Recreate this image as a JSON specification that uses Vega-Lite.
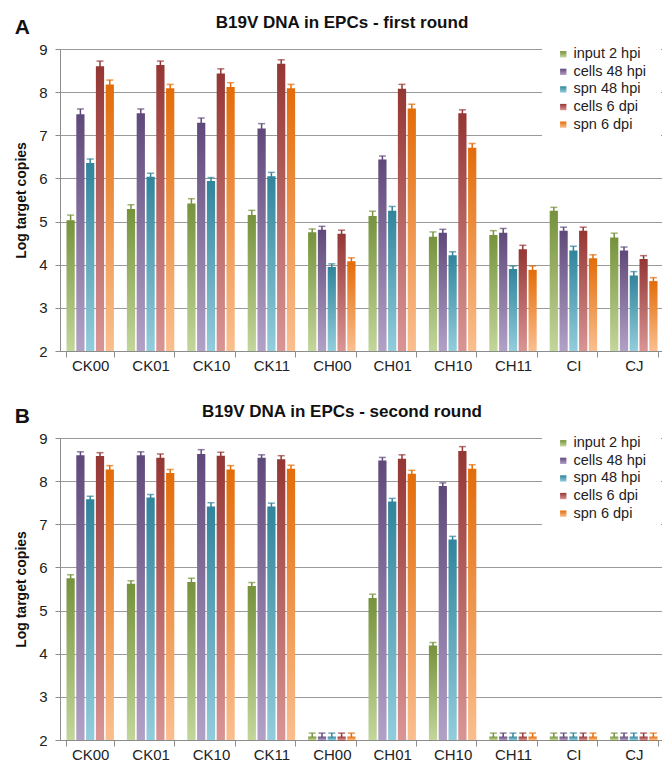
{
  "$schema": "https://vega.github.io/schema/vega-lite/v6.json",
  "padding": {"left": 14, "top": 14, "right": 0, "bottom": 0},
  "config": {
    "font": "Liberation Sans",
    "view": {"stroke": null},
    "concat": {"spacing": 30},
    "axis": {"labelColor": "#222", "domainColor": "#8c8c8c", "tickColor": "#8c8c8c", "labelFontSize": 15, "titleColor": "#111"},
    "legend": {"orient": "none", "legendX": 482, "legendY": -16, "fillColor": "white", "padding": 14, "labelFontSize": 14.5, "labelColor": "#222", "symbolType": "square", "symbolSize": 40, "rowPadding": 2.6, "labelOffset": 3, "title": null, "symbolStrokeWidth": 0}
  },
  "resolve": {"scale": {"fill": "independent", "color": "independent", "y": "independent", "x": "independent"}, "legend": {"fill": "independent"}},
  "datasets": {
    "r1": [
      {"cat": "CK00", "series": "input 2 hpi", "value": 5.03, "err": 0.12},
      {"cat": "CK00", "series": "cells 48 hpi", "value": 7.49, "err": 0.12},
      {"cat": "CK00", "series": "spn 48 hpi", "value": 6.36, "err": 0.09},
      {"cat": "CK00", "series": "cells 6 dpi", "value": 8.6, "err": 0.12},
      {"cat": "CK00", "series": "spn 6 dpi", "value": 8.18, "err": 0.1},
      {"cat": "CK01", "series": "input 2 hpi", "value": 5.29, "err": 0.1},
      {"cat": "CK01", "series": "cells 48 hpi", "value": 7.51, "err": 0.1},
      {"cat": "CK01", "series": "spn 48 hpi", "value": 6.04, "err": 0.08},
      {"cat": "CK01", "series": "cells 6 dpi", "value": 8.63, "err": 0.09},
      {"cat": "CK01", "series": "spn 6 dpi", "value": 8.09, "err": 0.09},
      {"cat": "CK10", "series": "input 2 hpi", "value": 5.42, "err": 0.11},
      {"cat": "CK10", "series": "cells 48 hpi", "value": 7.29, "err": 0.11},
      {"cat": "CK10", "series": "spn 48 hpi", "value": 5.94, "err": 0.08},
      {"cat": "CK10", "series": "cells 6 dpi", "value": 8.43, "err": 0.11},
      {"cat": "CK10", "series": "spn 6 dpi", "value": 8.12, "err": 0.1},
      {"cat": "CK11", "series": "input 2 hpi", "value": 5.15, "err": 0.11},
      {"cat": "CK11", "series": "cells 48 hpi", "value": 7.16, "err": 0.11},
      {"cat": "CK11", "series": "spn 48 hpi", "value": 6.05, "err": 0.09},
      {"cat": "CK11", "series": "cells 6 dpi", "value": 8.66, "err": 0.09},
      {"cat": "CK11", "series": "spn 6 dpi", "value": 8.09, "err": 0.09},
      {"cat": "CH00", "series": "input 2 hpi", "value": 4.75, "err": 0.08},
      {"cat": "CH00", "series": "cells 48 hpi", "value": 4.81, "err": 0.08},
      {"cat": "CH00", "series": "spn 48 hpi", "value": 3.95, "err": 0.07},
      {"cat": "CH00", "series": "cells 6 dpi", "value": 4.72, "err": 0.08},
      {"cat": "CH00", "series": "spn 6 dpi", "value": 4.08, "err": 0.08},
      {"cat": "CH01", "series": "input 2 hpi", "value": 5.13, "err": 0.11},
      {"cat": "CH01", "series": "cells 48 hpi", "value": 6.44, "err": 0.08},
      {"cat": "CH01", "series": "spn 48 hpi", "value": 5.25, "err": 0.1},
      {"cat": "CH01", "series": "cells 6 dpi", "value": 8.08, "err": 0.1},
      {"cat": "CH01", "series": "spn 6 dpi", "value": 7.62, "err": 0.1},
      {"cat": "CH10", "series": "input 2 hpi", "value": 4.65, "err": 0.11},
      {"cat": "CH10", "series": "cells 48 hpi", "value": 4.74, "err": 0.08},
      {"cat": "CH10", "series": "spn 48 hpi", "value": 4.22, "err": 0.08},
      {"cat": "CH10", "series": "cells 6 dpi", "value": 7.51, "err": 0.08},
      {"cat": "CH10", "series": "spn 6 dpi", "value": 6.71, "err": 0.1},
      {"cat": "CH11", "series": "input 2 hpi", "value": 4.69, "err": 0.1},
      {"cat": "CH11", "series": "cells 48 hpi", "value": 4.74, "err": 0.1},
      {"cat": "CH11", "series": "spn 48 hpi", "value": 3.9, "err": 0.07},
      {"cat": "CH11", "series": "cells 6 dpi", "value": 4.36, "err": 0.09},
      {"cat": "CH11", "series": "spn 6 dpi", "value": 3.88, "err": 0.09},
      {"cat": "CI", "series": "input 2 hpi", "value": 5.25, "err": 0.08},
      {"cat": "CI", "series": "cells 48 hpi", "value": 4.79, "err": 0.08},
      {"cat": "CI", "series": "spn 48 hpi", "value": 4.33, "err": 0.1},
      {"cat": "CI", "series": "cells 6 dpi", "value": 4.79, "err": 0.08},
      {"cat": "CI", "series": "spn 6 dpi", "value": 4.15, "err": 0.08},
      {"cat": "CJ", "series": "input 2 hpi", "value": 4.63, "err": 0.1},
      {"cat": "CJ", "series": "cells 48 hpi", "value": 4.33, "err": 0.08},
      {"cat": "CJ", "series": "spn 48 hpi", "value": 3.75, "err": 0.09},
      {"cat": "CJ", "series": "cells 6 dpi", "value": 4.13, "err": 0.08},
      {"cat": "CJ", "series": "spn 6 dpi", "value": 3.62, "err": 0.08}
    ],
    "r2": [
      {"cat": "CK00", "series": "input 2 hpi", "value": 5.75, "err": 0.08},
      {"cat": "CK00", "series": "cells 48 hpi", "value": 8.6, "err": 0.08},
      {"cat": "CK00", "series": "spn 48 hpi", "value": 7.58, "err": 0.07},
      {"cat": "CK00", "series": "cells 6 dpi", "value": 8.58, "err": 0.08},
      {"cat": "CK00", "series": "spn 6 dpi", "value": 8.27, "err": 0.09},
      {"cat": "CK01", "series": "input 2 hpi", "value": 5.62, "err": 0.07},
      {"cat": "CK01", "series": "cells 48 hpi", "value": 8.6, "err": 0.08},
      {"cat": "CK01", "series": "spn 48 hpi", "value": 7.62, "err": 0.07},
      {"cat": "CK01", "series": "cells 6 dpi", "value": 8.54, "err": 0.09},
      {"cat": "CK01", "series": "spn 6 dpi", "value": 8.19, "err": 0.08},
      {"cat": "CK10", "series": "input 2 hpi", "value": 5.66, "err": 0.09},
      {"cat": "CK10", "series": "cells 48 hpi", "value": 8.63, "err": 0.1},
      {"cat": "CK10", "series": "spn 48 hpi", "value": 7.41, "err": 0.09},
      {"cat": "CK10", "series": "cells 6 dpi", "value": 8.59, "err": 0.08},
      {"cat": "CK10", "series": "spn 6 dpi", "value": 8.27, "err": 0.09},
      {"cat": "CK11", "series": "input 2 hpi", "value": 5.57, "err": 0.08},
      {"cat": "CK11", "series": "cells 48 hpi", "value": 8.54, "err": 0.07},
      {"cat": "CK11", "series": "spn 48 hpi", "value": 7.41, "err": 0.08},
      {"cat": "CK11", "series": "cells 6 dpi", "value": 8.51, "err": 0.08},
      {"cat": "CK11", "series": "spn 6 dpi", "value": 8.29, "err": 0.08},
      {"cat": "CH00", "series": "input 2 hpi", "value": 2.08, "err": 0.08},
      {"cat": "CH00", "series": "cells 48 hpi", "value": 2.08, "err": 0.08},
      {"cat": "CH00", "series": "spn 48 hpi", "value": 2.08, "err": 0.08},
      {"cat": "CH00", "series": "cells 6 dpi", "value": 2.08, "err": 0.08},
      {"cat": "CH00", "series": "spn 6 dpi", "value": 2.08, "err": 0.08},
      {"cat": "CH01", "series": "input 2 hpi", "value": 5.29, "err": 0.09},
      {"cat": "CH01", "series": "cells 48 hpi", "value": 8.48, "err": 0.07},
      {"cat": "CH01", "series": "spn 48 hpi", "value": 7.53, "err": 0.07},
      {"cat": "CH01", "series": "cells 6 dpi", "value": 8.52, "err": 0.09},
      {"cat": "CH01", "series": "spn 6 dpi", "value": 8.17, "err": 0.08},
      {"cat": "CH10", "series": "input 2 hpi", "value": 4.19, "err": 0.07},
      {"cat": "CH10", "series": "cells 48 hpi", "value": 7.89, "err": 0.07},
      {"cat": "CH10", "series": "spn 48 hpi", "value": 6.65, "err": 0.07},
      {"cat": "CH10", "series": "cells 6 dpi", "value": 8.7, "err": 0.1},
      {"cat": "CH10", "series": "spn 6 dpi", "value": 8.29, "err": 0.09},
      {"cat": "CH11", "series": "input 2 hpi", "value": 2.08, "err": 0.08},
      {"cat": "CH11", "series": "cells 48 hpi", "value": 2.08, "err": 0.08},
      {"cat": "CH11", "series": "spn 48 hpi", "value": 2.08, "err": 0.08},
      {"cat": "CH11", "series": "cells 6 dpi", "value": 2.08, "err": 0.08},
      {"cat": "CH11", "series": "spn 6 dpi", "value": 2.08, "err": 0.08},
      {"cat": "CI", "series": "input 2 hpi", "value": 2.08, "err": 0.08},
      {"cat": "CI", "series": "cells 48 hpi", "value": 2.08, "err": 0.08},
      {"cat": "CI", "series": "spn 48 hpi", "value": 2.08, "err": 0.08},
      {"cat": "CI", "series": "cells 6 dpi", "value": 2.08, "err": 0.08},
      {"cat": "CI", "series": "spn 6 dpi", "value": 2.08, "err": 0.08},
      {"cat": "CJ", "series": "input 2 hpi", "value": 2.08, "err": 0.08},
      {"cat": "CJ", "series": "cells 48 hpi", "value": 2.08, "err": 0.08},
      {"cat": "CJ", "series": "spn 48 hpi", "value": 2.08, "err": 0.08},
      {"cat": "CJ", "series": "cells 6 dpi", "value": 2.08, "err": 0.08},
      {"cat": "CJ", "series": "spn 6 dpi", "value": 2.08, "err": 0.08}
    ]
  },
  "vconcat": [
    {
      "title": {"text": "A", "anchor": "start", "fontSize": 21, "fontWeight": "bold", "color": "#111", "offset": -24, "dx": 0},
      "vconcat": [
        {
          "title": {"text": "B19V DNA in EPCs - first round", "fontSize": 17, "fontWeight": "bold", "color": "#111", "anchor": "middle", "dx": -20, "offset": 10},
          "data": {"name": "r1"},
          "width": 604,
          "height": 302,
          "encoding": {
            "x": {"field": "cat", "type": "nominal", "sort": null, "scale": {"paddingInner": 0.215, "paddingOuter": 0.1075}, "axis": {"title": null, "labelAngle": 0, "tickBand": "extent", "tickSize": 6, "labelPadding": 1}},
            "xOffset": {"field": "series", "type": "nominal", "sort": ["input 2 hpi", "cells 48 hpi", "spn 48 hpi", "cells 6 dpi", "spn 6 dpi"], "scale": {"paddingInner": 0.16}},
            "y": {"field": "value", "type": "quantitative", "scale": {"domain": [2, 9], "zero": false, "nice": false}, "axis": {"title": "Log target copies", "titleFontSize": 14, "titleFontWeight": "bold", "titlePadding": 10, "values": [2, 3, 4, 5, 6, 7, 8, 9], "gridColor": "#9a9a9a", "tickSize": 5, "labelPadding": 8}}
          },
          "layer": [
            {
              "mark": {"type": "errorbar", "ticks": {"size": 7, "thickness": 1.5}, "thickness": 1.5},
              "encoding": {
                "yError": {"field": "err"},
                "color": {"field": "series", "type": "nominal", "sort": ["input 2 hpi", "cells 48 hpi", "spn 48 hpi", "cells 6 dpi", "spn 6 dpi"], "scale": {"range": ["#76923C", "#5F497A", "#31849B", "#943634", "#E36C09"]}, "legend": null}
              }
            },
            {
              "mark": {"type": "bar"},
              "encoding": {
                "y2": {"datum": 2},
                "fill": {"field": "series", "type": "nominal", "sort": ["input 2 hpi", "cells 48 hpi", "spn 48 hpi", "cells 6 dpi", "spn 6 dpi"], "scale": {"range": [
                  {"expr": "{gradient: 'linear', x1: 0, y1: 0, x2: 0, y2: 1, stops: [{offset: 0, color: '#76923C'}, {offset: 1, color: '#C3D69B'}]}"},
                  {"expr": "{gradient: 'linear', x1: 0, y1: 0, x2: 0, y2: 1, stops: [{offset: 0, color: '#5F497A'}, {offset: 1, color: '#B2A1C7'}]}"},
                  {"expr": "{gradient: 'linear', x1: 0, y1: 0, x2: 0, y2: 1, stops: [{offset: 0, color: '#31849B'}, {offset: 1, color: '#92CDDC'}]}"},
                  {"expr": "{gradient: 'linear', x1: 0, y1: 0, x2: 0, y2: 1, stops: [{offset: 0, color: '#943634'}, {offset: 1, color: '#D99594'}]}"},
                  {"expr": "{gradient: 'linear', x1: 0, y1: 0, x2: 0, y2: 1, stops: [{offset: 0, color: '#E36C09'}, {offset: 1, color: '#FABF8F'}]}"}
                ]}}
              }
            }
          ]
        }
      ]
    },
    {
      "title": {"text": "B", "anchor": "start", "fontSize": 21, "fontWeight": "bold", "color": "#111", "offset": -24, "dx": 0},
      "vconcat": [
        {
          "title": {"text": "B19V DNA in EPCs - second round", "fontSize": 17, "fontWeight": "bold", "color": "#111", "anchor": "middle", "dx": -20, "offset": 10},
          "data": {"name": "r2"},
          "width": 604,
          "height": 302,
          "encoding": {
            "x": {"field": "cat", "type": "nominal", "sort": null, "scale": {"paddingInner": 0.215, "paddingOuter": 0.1075}, "axis": {"title": null, "labelAngle": 0, "tickBand": "extent", "tickSize": 6, "labelPadding": 1}},
            "xOffset": {"field": "series", "type": "nominal", "sort": ["input 2 hpi", "cells 48 hpi", "spn 48 hpi", "cells 6 dpi", "spn 6 dpi"], "scale": {"paddingInner": 0.16}},
            "y": {"field": "value", "type": "quantitative", "scale": {"domain": [2, 9], "zero": false, "nice": false}, "axis": {"title": "Log target copies", "titleFontSize": 14, "titleFontWeight": "bold", "titlePadding": 10, "values": [2, 3, 4, 5, 6, 7, 8, 9], "gridColor": "#9a9a9a", "tickSize": 5, "labelPadding": 8}}
          },
          "layer": [
            {
              "mark": {"type": "errorbar", "ticks": {"size": 7, "thickness": 1.5}, "thickness": 1.5},
              "encoding": {
                "yError": {"field": "err"},
                "color": {"field": "series", "type": "nominal", "sort": ["input 2 hpi", "cells 48 hpi", "spn 48 hpi", "cells 6 dpi", "spn 6 dpi"], "scale": {"range": ["#76923C", "#5F497A", "#31849B", "#943634", "#E36C09"]}, "legend": null}
              }
            },
            {
              "mark": {"type": "bar"},
              "encoding": {
                "y2": {"datum": 2},
                "fill": {"field": "series", "type": "nominal", "sort": ["input 2 hpi", "cells 48 hpi", "spn 48 hpi", "cells 6 dpi", "spn 6 dpi"], "scale": {"range": [
                  {"expr": "{gradient: 'linear', x1: 0, y1: 0, x2: 0, y2: 1, stops: [{offset: 0, color: '#76923C'}, {offset: 1, color: '#C3D69B'}]}"},
                  {"expr": "{gradient: 'linear', x1: 0, y1: 0, x2: 0, y2: 1, stops: [{offset: 0, color: '#5F497A'}, {offset: 1, color: '#B2A1C7'}]}"},
                  {"expr": "{gradient: 'linear', x1: 0, y1: 0, x2: 0, y2: 1, stops: [{offset: 0, color: '#31849B'}, {offset: 1, color: '#92CDDC'}]}"},
                  {"expr": "{gradient: 'linear', x1: 0, y1: 0, x2: 0, y2: 1, stops: [{offset: 0, color: '#943634'}, {offset: 1, color: '#D99594'}]}"},
                  {"expr": "{gradient: 'linear', x1: 0, y1: 0, x2: 0, y2: 1, stops: [{offset: 0, color: '#E36C09'}, {offset: 1, color: '#FABF8F'}]}"}
                ]}}
              }
            }
          ]
        }
      ]
    }
  ]
}
